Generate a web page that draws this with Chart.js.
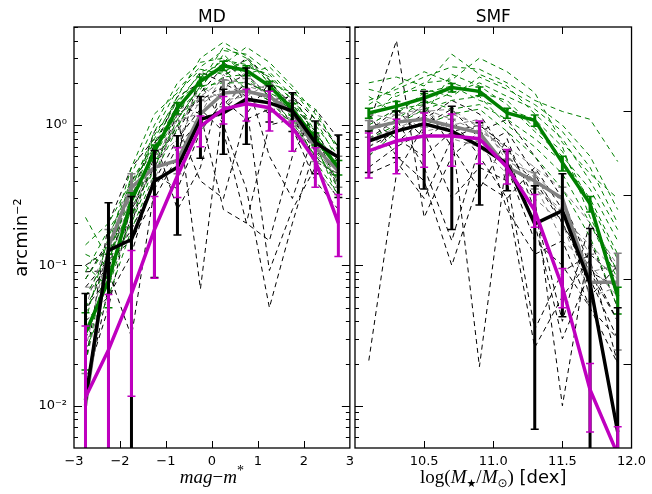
<!DOCTYPE html>
<html>
<head>
<meta charset="utf-8">
<script src="https://cdn.jsdelivr.net/npm/chart.js@4/dist/chart.umd.min.js"></script>
<style>
  html, body { margin: 0; padding: 0; background: #fff; }
  #wrap { position: relative; width: 652px; height: 494px; }
  canvas { position: absolute; top: 0; }
  #cMD { left: 0; }
  #cSMF { left: 340px; }
</style>
</head>
<body>
<div id="wrap">
  <canvas id="cMD" width="360" height="494"></canvas>
  <canvas id="cSMF" width="312" height="494"></canvas>
</div>
<script>
// ---- data ----
const mdX = [-2.75, -2.25, -1.75, -1.25, -0.75, -0.25, 0.25, 0.75, 1.25, 1.75, 2.25, 2.75];
const smfX = [10.1, 10.3, 10.5, 10.7, 10.9, 11.1, 11.3, 11.5, 11.7, 11.9];

const mdGreen   = [0.033, 0.078, 0.29, 0.65, 1.32, 2.05, 2.65, 2.45, 1.90, 1.30, 0.80, 0.50];
const mdGreenLo = [0.018, 0.050, 0.25, 0.58, 1.20, 1.90, 2.45, 2.25, 1.75, 1.18, 0.72, 0.44];
const mdGreenHi = [0.046, 0.120, 0.33, 0.72, 1.45, 2.20, 2.85, 2.65, 2.05, 1.42, 0.88, 0.56];
const mdGray    = [0.010, 0.135, 0.36, 0.50, 0.56, 1.20, 1.69, 1.74, 1.60, 1.22, 0.69, 0.47];
const mdGrayLo  = [0.0001, 0.10, 0.28, 0.40, 0.45, 0.95, 1.35, 1.40, 1.30, 0.98, 0.55, 0.36];
const mdGrayHi  = [0.017, 0.18, 0.45, 0.62, 0.70, 1.50, 2.10, 2.15, 2.00, 1.50, 0.85, 0.60];
const mdBlack   = [0.011, 0.128, 0.153, 0.40, 0.50, 1.10, 1.22, 1.53, 1.44, 1.26, 0.75, 0.59];
const mdBlackLo = [0.0001, 0.0001, 0.0001, 0.082, 0.165, 0.58, 0.62, 0.73, 1.05, 0.90, 0.45, 0.305];
const mdBlackHi = [0.063, 0.28, 0.31, 0.66, 0.84, 1.60, 1.80, 2.55, 1.90, 1.70, 1.07, 0.85];
const mdMag     = [0.0115, 0.025, 0.063, 0.18, 0.435, 0.98, 1.30, 1.42, 1.33, 0.96, 0.555, 0.20];
const mdMagLo   = [0.0001, 0.0001, 0.0117, 0.081, 0.305, 0.70, 1.02, 1.07, 0.906, 0.65, 0.36, 0.116];
const mdMagHi   = [0.037, 0.062, 0.128, 0.31, 0.69, 1.16, 1.60, 1.80, 1.74, 1.07, 0.69, 0.32];

const mdGreenRuns = [
  [0.06, 0.12, 0.35, 0.90, 1.80, 2.60, 3.40, 3.20, 2.40, 1.60, 0.90, 0.50],
  [0.03, 0.09, 0.25, 0.60, 1.20, 2.20, 2.90, 2.70, 2.20, 1.50, 1.00, 0.60],
  [0.14, 0.20, 0.40, 0.75, 1.50, 2.30, 2.40, 2.90, 2.00, 1.10, 0.70, 0.35],
  [0.10, 0.07, 0.22, 0.55, 1.00, 1.70, 2.20, 2.30, 2.60, 1.80, 1.10, 0.55],
  [0.02, 0.13, 0.30, 0.80, 1.60, 3.00, 3.90, 3.10, 2.10, 1.30, 0.65, 0.40],
  [0.05, 0.10, 0.20, 0.50, 1.10, 1.90, 2.00, 2.00, 1.70, 1.40, 0.90, 0.45],
  [0.12, 0.10, 0.45, 1.00, 2.00, 2.80, 3.00, 2.50, 1.90, 1.20, 0.75, 0.30],
  [0.04, 0.16, 0.38, 0.70, 1.40, 2.40, 2.70, 3.60, 2.80, 1.90, 1.20, 0.70],
  [0.22, 0.11, 0.28, 0.62, 1.25, 1.80, 3.20, 2.20, 1.60, 1.05, 0.60, 0.42],
  [0.08, 0.14, 0.50, 1.20, 1.70, 2.50, 2.30, 2.60, 2.30, 1.50, 0.85, 0.38],
  [0.025, 0.06, 0.18, 0.45, 0.95, 2.10, 2.50, 1.80, 1.50, 1.00, 0.55, 0.32],
  [0.09, 0.18, 0.32, 0.85, 1.50, 2.00, 3.60, 3.00, 2.00, 1.70, 1.30, 0.65]
];
const mdBlackRuns = [
  [0.045, 0.12, 0.25, 0.50, 1.20, 1.50, 1.90, 2.30, 1.60, 1.30, 0.80, 0.50],
  [0.012, 0.07, 0.30, 0.90, 1.30, 0.068, 1.40, 2.00, 1.70, 1.00, 0.60, 0.40],
  [0.08, 0.15, 0.20, 0.60, 0.90, 1.70, 2.60, 1.40, 0.092, 0.25, 0.50, 0.30],
  [0.03, 0.09, 0.031, 0.35, 0.70, 1.10, 1.30, 1.80, 1.50, 1.60, 1.10, 0.70],
  [0.02, 0.20, 0.50, 0.80, 0.25, 0.50, 2.20, 3.00, 2.10, 1.20, 0.55, 0.45],
  [0.06, 0.10, 0.18, 0.40, 0.80, 1.30, 0.90, 0.20, 0.15, 0.60, 1.30, 0.80],
  [0.10, 0.13, 0.35, 0.50, 1.00, 0.40, 0.30, 1.20, 2.00, 1.40, 0.90, 0.35],
  [0.015, 0.05, 0.28, 0.70, 1.60, 2.00, 1.00, 0.35, 0.05, 0.20, 0.70, 0.60],
  [0.07, 0.11, 0.15, 0.30, 0.60, 2.40, 2.00, 1.60, 1.20, 1.70, 0.80, 0.55],
  [0.04, 0.06, 0.12, 0.45, 0.35, 0.90, 1.50, 1.10, 1.30, 0.95, 0.40, 0.25],
  [0.09, 0.092, 0.40, 0.65, 1.40, 1.20, 0.25, 0.20, 1.00, 1.10, 0.65, 0.50],
  [0.05, 0.08, 0.22, 0.75, 1.10, 1.90, 2.80, 2.10, 0.60, 0.30, 0.95, 0.45]
];
const mdGrayRuns = [
  [0.02, 0.10, 0.30, 0.60, 1.00, 1.60, 2.10, 2.00, 1.80, 1.20, 0.70, 0.40],
  [0.05, 0.16, 0.40, 0.50, 1.30, 1.40, 1.80, 2.40, 1.50, 1.00, 0.60, 0.50],
  [0.03, 0.08, 0.20, 0.70, 0.90, 1.90, 1.50, 1.60, 2.00, 1.40, 0.80, 0.35],
  [0.06, 0.12, 0.33, 0.45, 1.10, 1.20, 2.30, 1.50, 1.30, 1.10, 0.55, 0.45],
  [0.025, 0.14, 0.26, 0.55, 0.80, 1.50, 1.70, 1.90, 1.70, 0.90, 0.75, 0.60],
  [0.07, 0.07, 0.35, 0.40, 1.20, 1.00, 1.30, 2.10, 1.60, 1.30, 0.50, 0.30]
];

const smfGreen   = [1.22, 1.36, 1.56, 1.85, 1.74, 1.22, 1.08, 0.54, 0.275, 0.060];
const smfGreenLo = [1.12, 1.26, 1.45, 1.72, 1.62, 1.12, 0.98, 0.47, 0.24, 0.045];
const smfGreenHi = [1.32, 1.47, 1.68, 1.98, 1.87, 1.32, 1.18, 0.60, 0.31, 0.070];
const smfGray    = [0.95, 1.05, 1.10, 0.98, 0.88, 0.50, 0.40, 0.30, 0.076, 0.076];
const smfGrayLo  = [0.82, 0.92, 0.97, 0.86, 0.77, 0.44, 0.35, 0.25, 0.055, 0.025];
const smfGrayHi  = [1.08, 1.18, 1.24, 1.10, 0.99, 0.57, 0.46, 0.36, 0.12, 0.122];
const smfBlack   = [0.77, 0.906, 1.02, 0.906, 0.71, 0.53, 0.198, 0.246, 0.074, 0.0065];
const smfBlackLo = [0.46, 0.586, 0.35, 0.18, 0.27, 0.34, 0.0068, 0.043, 0.0001, 0.0001];
const smfBlackHi = [0.906, 1.26, 1.74, 1.36, 1.04, 0.65, 0.37, 0.45, 0.183, 0.05];
const smfMag     = [0.654, 0.77, 0.836, 0.836, 0.80, 0.50, 0.246, 0.07, 0.013, 0.0045];
const smfMagLo   = [0.42, 0.45, 0.50, 0.51, 0.53, 0.38, 0.187, 0.05, 0.0065, 0.0001];
const smfMagHi   = [0.88, 1.10, 1.22, 1.20, 1.07, 0.67, 0.32, 0.095, 0.020, 0.0071];

const smfGreenRuns = [
  [1.50, 1.80, 2.20, 2.60, 2.50, 2.00, 1.50, 1.25, 1.10, 0.55],
  [1.00, 1.30, 1.40, 1.70, 2.00, 1.60, 1.30, 0.90, 0.50, 0.20],
  [1.80, 1.60, 2.00, 2.10, 3.00, 2.40, 1.70, 0.75, 0.45, 0.30],
  [0.90, 1.10, 1.50, 1.30, 1.40, 1.10, 0.80, 0.55, 0.30, 0.12],
  [1.30, 1.50, 1.20, 2.30, 1.90, 1.40, 0.90, 0.60, 0.35, 0.15],
  [1.10, 1.70, 1.80, 1.60, 2.20, 1.80, 1.40, 1.00, 0.60, 0.25],
  [1.60, 1.20, 1.70, 1.90, 1.50, 1.30, 1.10, 0.70, 0.22, 0.09],
  [0.80, 1.00, 1.30, 1.50, 1.60, 1.00, 0.70, 0.45, 0.20, 0.08],
  [2.00, 2.20, 1.90, 3.20, 2.30, 1.90, 1.20, 0.80, 0.40, 0.18],
  [0.60, 0.90, 1.00, 1.20, 1.30, 0.90, 0.60, 0.35, 0.16, 0.05],
  [1.40, 1.90, 2.40, 2.00, 1.70, 1.50, 0.95, 0.65, 0.28, 0.11]
];
const smfBlackRuns = [
  [0.021, 0.45, 1.00, 1.30, 0.80, 0.50, 0.15, 0.10, 0.05, 0.02],
  [1.00, 4.00, 0.22, 0.60, 0.90, 1.10, 0.60, 0.30, 0.10, 0.04],
  [0.70, 0.90, 1.20, 0.90, 0.019, 0.60, 0.40, 0.20, 0.08, 0.03],
  [1.10, 0.80, 0.60, 0.90, 1.00, 0.70, 0.30, 0.010, 0.15, 0.05],
  [0.50, 0.70, 0.90, 0.30, 0.50, 0.40, 0.035, 0.09, 0.12, 0.08],
  [0.90, 1.30, 0.80, 1.10, 0.60, 0.30, 0.50, 0.25, 0.06, 0.10],
  [0.60, 1.00, 1.40, 0.70, 0.35, 0.80, 0.25, 0.04, 0.20, 0.09],
  [1.20, 0.60, 0.40, 0.10, 0.40, 0.30, 0.026, 0.06, 0.11, 0.02],
  [0.80, 1.10, 0.50, 0.15, 0.70, 0.90, 0.45, 0.20, 0.09, 0.04],
  [0.65, 0.75, 1.10, 1.50, 1.20, 0.60, 0.20, 0.03, 0.09, 0.07],
  [0.45, 0.55, 0.30, 0.80, 1.00, 0.25, 0.12, 0.15, 0.05, 0.03]
];
const smfGrayRuns = [
  [0.90, 1.20, 1.30, 1.10, 0.90, 0.70, 0.50, 0.35, 0.20, 0.10],
  [1.10, 0.90, 1.00, 1.20, 1.00, 0.60, 0.35, 0.25, 0.12, 0.08],
  [0.70, 1.00, 1.40, 0.80, 0.70, 0.45, 0.30, 0.20, 0.06, 0.07],
  [1.00, 1.30, 0.90, 1.00, 1.10, 0.55, 0.45, 0.28, 0.09, 0.10],
  [0.80, 0.95, 1.15, 0.90, 0.75, 0.50, 0.38, 0.15, 0.10, 0.06],
  [1.20, 1.10, 1.25, 1.30, 0.95, 0.65, 0.42, 0.22, 0.14, 0.09]
];

// ticks
const mdTicks = [-3, -2, -1, 0, 1, 2, 3];
const mdTickLabels = ['\u22123', '\u22122', '\u22121', '0', '1', '2', '3'];
const smfTicks = [10.5, 11.0, 11.5, 12.0];
const smfTickLabels = ['10.5', '11.0', '11.5', '12.0'];
const yTicks = [0.01, 0.1, 1];
const yTickLabels = ['10\u207B\u00B2', '10\u207B\u00B9', '10\u2070'];
const yMinor = [0.005, 0.006, 0.007, 0.008, 0.009, 0.02, 0.03, 0.04, 0.05, 0.06, 0.07, 0.08, 0.09,
                0.2, 0.3, 0.4, 0.5, 0.6, 0.7, 0.8, 0.9, 2, 3, 4, 5];
const smfRightTicks = [1.25, 0.315, 0.0794, 0.02];

const GREEN = '#008000', GRAY = '#808080', BLACK = '#000000', MAG = '#bf00bf';

// ---- helpers ----
function pts(xs, ys) { return xs.map((x, i) => ({ x: x, y: ys[i] })); }
function thick(xs, ys, lo, hi, color, order) {
  return { data: pts(xs, ys), borderColor: color, borderWidth: 3.5, pointRadius: 0,
           tension: 0, order: order, errLo: lo, errHi: hi };
}
function thin(xs, ys, color, order) {
  return { data: pts(xs, ys), borderColor: color, borderWidth: 1, borderDash: [5, 4],
           pointRadius: 0, tension: 0, order: order };
}

const errorBars = {
  id: 'errorBars',
  afterDatasetDraw(chart, args) {
    const ds = chart.data.datasets[args.index];
    if (!ds.errLo) return;
    const { ctx, chartArea: a } = chart, x = chart.scales.x, y = chart.scales.y;
    ctx.save();
    ctx.beginPath(); ctx.rect(a.left, a.top, a.right - a.left, a.bottom - a.top); ctx.clip();
    ctx.strokeStyle = ds.borderColor;
    ds.data.forEach((p, i) => {
      const px = x.getPixelForValue(p.x);
      const y1 = y.getPixelForValue(ds.errLo[i]);
      const y2 = y.getPixelForValue(ds.errHi[i]);
      ctx.lineWidth = 3;
      ctx.beginPath(); ctx.moveTo(px, y1); ctx.lineTo(px, y2); ctx.stroke();
      ctx.lineWidth = 1.5;
      ctx.beginPath();
      ctx.moveTo(px - 4, y1); ctx.lineTo(px + 4, y1);
      ctx.moveTo(px - 4, y2); ctx.lineTo(px + 4, y2);
      ctx.stroke();
    });
    ctx.restore();
  }
};

const frame = {
  id: 'frame',
  afterDraw(chart, args, o) {
    const { ctx, chartArea: a } = chart, x = chart.scales.x, y = chart.scales.y;
    ctx.save();
    ctx.strokeStyle = '#000'; ctx.lineWidth = 1;
    ctx.beginPath();
    o.xTicks.forEach(v => {
      const p = Math.round(x.getPixelForValue(v)) + 0.5;
      if (p <= a.left + 1 || p >= a.right - 1) return;
      ctx.moveTo(p, a.bottom); ctx.lineTo(p, a.bottom - 7);
      ctx.moveTo(p, a.top); ctx.lineTo(p, a.top + 7);
    });
    const yt = (vals, len, left, right) => vals.forEach(v => {
      const p = Math.round(y.getPixelForValue(v)) + 0.5;
      if (p < a.top || p > a.bottom) return;
      if (left) { ctx.moveTo(a.left, p); ctx.lineTo(a.left + len, p); }
      if (right) { ctx.moveTo(a.right, p); ctx.lineTo(a.right - len, p); }
    });
    yt(yTicks, 8, true, !o.rightTicks);
    yt(yMinor, 4, true, !o.rightTicks);
    if (o.rightTicks) yt(o.rightTicks, 8, false, true);
    ctx.stroke();
    ctx.lineWidth = 1.3;
    ctx.strokeRect(a.left, a.top, a.right - a.left, a.bottom - a.top);
    ctx.restore();
  }
};

const panelText = {
  id: 'panelText',
  afterDraw(chart, args, o) {
    const { ctx, chartArea: a } = chart;
    const cx = (a.left + a.right) / 2;
    ctx.save();
    ctx.fillStyle = '#000';
    ctx.textBaseline = 'alphabetic';
    ctx.textAlign = 'center';
    ctx.font = '17px "DejaVu Sans"';
    ctx.fillText(o.title, cx, a.top - 5);
    ctx.textAlign = 'left';
    let w = 0;
    o.xlabel.forEach(s => { ctx.font = s.f; w += ctx.measureText(s.t).width; });
    let xx = cx - w / 2;
    const base = a.bottom + 35;
    o.xlabel.forEach(s => {
      ctx.font = s.f;
      ctx.fillText(s.t, xx, base + (s.dy || 0));
      xx += ctx.measureText(s.t).width;
    });
    ctx.restore();
  }
};

function makePanel(id, xs, runs, lines, xr, ticks, tickLabels, opts) {
  const datasets = [];
  runs.black.forEach(r => datasets.push(thin(xs, r, BLACK, 12)));
  runs.gray.forEach(r => datasets.push(thin(xs, r, GRAY, 11)));
  runs.green.forEach(r => datasets.push(thin(xs, r, GREEN, 10)));
  lines.forEach(l => datasets.push(l));
  return new Chart(document.getElementById(id), {
    type: 'line',
    data: { datasets: datasets },
    plugins: [errorBars, frame, panelText],
    options: {
      responsive: false, animation: false, devicePixelRatio: 1,
      layout: { padding: { top: 27, right: opts.padRight, left: 0, bottom: 0 } },
      plugins: {
        legend: { display: false }, tooltip: { enabled: false },
        frame: { xTicks: ticks, rightTicks: opts.rightTicks },
        panelText: { title: opts.title, xlabel: opts.xlabel }
      },
      scales: {
        x: {
          type: 'linear', min: xr[0], max: xr[1],
          afterBuildTicks: s => { s.ticks = ticks.map(v => ({ value: v })); },
          afterFit: s => { s.height = 46; },
          ticks: {
            autoSkip: false, maxRotation: 0, padding: 6, color: '#000',
            font: { family: 'DejaVu Sans', size: 13 },
            callback: (v, i) => tickLabels[i]
          },
          grid: { display: false, drawTicks: false },
          border: { display: false }
        },
        y: {
          type: 'logarithmic', min: 0.005, max: 5,
          afterBuildTicks: s => { s.ticks = yTicks.map(v => ({ value: v })); },
          afterFit: s => { s.width = opts.yWidth; },
          ticks: {
            display: opts.yLabels, autoSkip: false, padding: 7, color: '#000',
            font: { family: 'DejaVu Sans', size: 13 },
            callback: (v, i) => yTickLabels[i]
          },
          title: {
            display: opts.yLabels, text: 'arcmin\u207B\u00B2', color: '#000',
            font: { family: 'DejaVu Sans', size: 18 }, padding: { top: 12, bottom: 0 }
          },
          grid: { display: false, drawTicks: false },
          border: { display: false }
        }
      }
    }
  });
}

const SERIF = '"Liberation Serif"';

makePanel('cMD', mdX,
  { black: mdBlackRuns, gray: mdGrayRuns, green: mdGreenRuns },
  [
    thick(mdX, mdGray, mdGrayLo, mdGrayHi, GRAY, 4),
    thick(mdX, mdGreen, mdGreenLo, mdGreenHi, GREEN, 3),
    thick(mdX, mdBlack, mdBlackLo, mdBlackHi, BLACK, 2),
    thick(mdX, mdMag, mdMagLo, mdMagHi, MAG, 1)
  ],
  [-3, 3], mdTicks, mdTickLabels,
  {
    padRight: 5, yWidth: 74, yLabels: true, rightTicks: null, title: 'MD',
    xlabel: [
      { t: 'mag', f: 'italic 19px ' + SERIF },
      { t: '\u2212', f: '19px ' + SERIF },
      { t: 'm', f: 'italic 19px ' + SERIF },
      { t: '*', f: '14px ' + SERIF, dy: -8 }
    ]
  });

makePanel('cSMF', smfX,
  { black: smfBlackRuns, gray: smfGrayRuns, green: smfGreenRuns },
  [
    thick(smfX, smfGray, smfGrayLo, smfGrayHi, GRAY, 4),
    thick(smfX, smfGreen, smfGreenLo, smfGreenHi, GREEN, 3),
    thick(smfX, smfBlack, smfBlackLo, smfBlackHi, BLACK, 2),
    thick(smfX, smfMag, smfMagLo, smfMagHi, MAG, 1)
  ],
  [10, 12], smfTicks, smfTickLabels,
  {
    padRight: 17, yWidth: 15, yLabels: false, rightTicks: smfRightTicks, title: 'SMF',
    xlabel: [
      { t: 'log(', f: '19px ' + SERIF },
      { t: 'M', f: 'italic 19px ' + SERIF },
      { t: '\u2605', f: '11px "DejaVu Sans"', dy: 4 },
      { t: '/', f: '19px ' + SERIF },
      { t: 'M', f: 'italic 19px ' + SERIF },
      { t: '\u2299', f: '12px "DejaVu Sans"', dy: 4 },
      { t: ')', f: '19px ' + SERIF },
      { t: ' [dex]', f: '18px "DejaVu Sans"' }
    ]
  });
</script>
</body>
</html>
